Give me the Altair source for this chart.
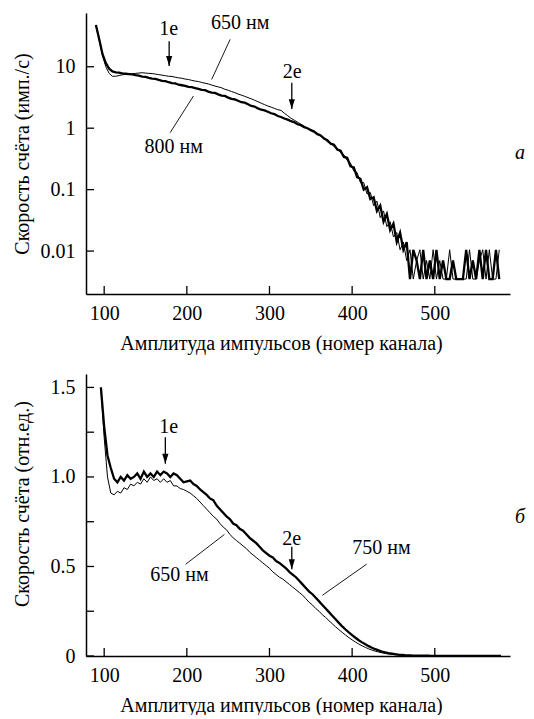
import altair as alt
import pandas as pd

# ---------------- data ----------------
top_channels = list(range(90, 579, 4))
top_800 = [48, 28, 16, 11.5, 9.3, 8.4, 8.1, 8.0, 7.8, 7.7,
           7.6, 7.5, 7.3, 7.15, 6.9, 6.85, 6.6, 6.4, 6.35, 6.1,
           5.9, 5.85, 5.6, 5.4, 5.35, 5.1, 5.0, 4.9, 4.7, 4.65,
           4.5, 4.35, 4.2, 4.15, 3.95, 3.8, 3.75, 3.55, 3.4, 3.35,
           3.15, 3.0, 2.95, 2.8, 2.65, 2.6, 2.45, 2.3, 2.25, 2.1,
           2.0, 1.95, 1.85, 1.75, 1.7, 1.58, 1.52, 1.44, 1.38, 1.3,
           1.25, 1.16, 1.12, 1.04, 1.0, 0.93, 0.88, 0.8, 0.76, 0.68,
           0.64, 0.56, 0.54, 0.45, 0.43, 0.34, 0.33, 0.24, 0.23, 0.16,
           0.15, 0.1, 0.11, 0.07, 0.075, 0.045, 0.055, 0.03, 0.04, 0.022,
           0.028, 0.014, 0.02, 0.0105, 0.014, 0.0035, 0.0105, 0.007, 0.0035, 0.0105,
           0.0035, 0.007, 0.0035, 0.0105, 0.0035, 0.007, 0.0035, 0.0035, 0.007, 0.0035,
           0.0035, 0.0035, 0.0105, 0.0035, 0.007, 0.0035, 0.0105, 0.0035, 0.0105, 0.0035,
           0.0035, 0.0105, 0.0035]
top_650 = [48, 27, 15, 10, 7.8, 7.0, 7.0, 7.2, 7.4, 7.5,
           7.6, 7.7, 7.8, 7.9, 8.0, 7.9, 7.8, 7.75, 7.6, 7.45,
           7.3, 7.15, 7.0, 6.95, 6.75, 6.6, 6.5, 6.3, 6.2, 6.0,
           5.85, 5.75, 5.55, 5.4, 5.25, 5.05, 4.85, 4.7, 4.55, 4.3,
           4.15, 3.95, 3.8, 3.6, 3.45, 3.3, 3.15, 3.0, 2.85, 2.7,
           2.55, 2.42, 2.3, 2.2, 2.1, 2.0, 1.95, 1.75, 1.6, 1.45,
           1.35, 1.25, 1.16, 1.08, 1.0, 0.95, 0.86, 0.82, 0.74, 0.7,
           0.6, 0.58, 0.5, 0.47, 0.4, 0.37, 0.3, 0.27, 0.2, 0.19,
           0.13, 0.13, 0.085, 0.09, 0.055, 0.065, 0.035, 0.045, 0.025, 0.03,
           0.017, 0.02, 0.0105, 0.014, 0.007, 0.0105, 0.0035, 0.007, 0.0105, 0.0035,
           0.007, 0.0035, 0.0105, 0.0035, 0.007, 0.0035, 0.0035, 0.0105, 0.0035, 0.0035,
           0.0035, 0.0035, 0.0035, 0.0105, 0.0035, 0.0035, 0.007, 0.0105, 0.0035, 0.0105,
           0.0035, 0.0035, 0.0105]

bot_channels = list(range(96, 581, 4))
bot_750 = [1.5, 1.28, 1.12, 1.05, 0.99, 0.97, 1.0, 0.98, 1.01, 0.99,
           1.0, 1.02, 0.99, 1.03, 1.0, 1.02, 1.0, 1.03, 1.01, 1.03,
           1.02, 1.0, 1.02, 1.01, 0.99, 0.97, 0.975, 0.98, 0.96, 0.95,
           0.93, 0.915, 0.9, 0.88, 0.87, 0.84, 0.82, 0.8, 0.78, 0.765,
           0.74, 0.73, 0.71, 0.7, 0.68, 0.66, 0.645, 0.63, 0.61, 0.59,
           0.575, 0.56, 0.55, 0.53, 0.52, 0.505, 0.49, 0.47, 0.455, 0.44,
           0.42, 0.4, 0.38, 0.36, 0.345, 0.325, 0.305, 0.285, 0.265, 0.245,
           0.225, 0.205, 0.185, 0.165, 0.148, 0.132, 0.117, 0.102, 0.088, 0.076,
           0.065, 0.055, 0.046, 0.038, 0.031, 0.025, 0.02, 0.016, 0.013, 0.01,
           0.008, 0.0065, 0.005, 0.004, 0.003, 0.0025, 0.002, 0.002, 0.0015, 0.0015,
           0.0012, 0.0012, 0.001, 0.001, 0.001, 0.0008, 0.0008, 0.0008, 0.0008, 0.0008,
           0.0006, 0.0006, 0.0006, 0.0006, 0.0006, 0.0006, 0.0006, 0.0006, 0.0006, 0.0006,
           0.0006, 0.0006]
bot_650 = [1.5, 1.22, 1.0, 0.91, 0.9, 0.92, 0.91, 0.94, 0.93, 0.96,
           0.95, 0.97, 0.96, 0.99, 0.97, 1.0, 0.98, 0.99, 0.97, 0.99,
           0.97, 0.98, 0.95, 0.95, 0.935, 0.93, 0.92, 0.91, 0.895, 0.88,
           0.86, 0.84, 0.82, 0.8, 0.78, 0.765, 0.74, 0.72, 0.705, 0.68,
           0.66, 0.645, 0.63, 0.615, 0.6, 0.58, 0.565, 0.55, 0.535, 0.52,
           0.505, 0.49, 0.47, 0.455, 0.44, 0.43, 0.415, 0.4, 0.385, 0.37,
           0.355, 0.34, 0.32, 0.3, 0.285, 0.265, 0.25, 0.23, 0.215, 0.197,
           0.18, 0.163, 0.147, 0.132, 0.117, 0.103, 0.09, 0.078, 0.067, 0.057,
           0.048, 0.04, 0.033, 0.027, 0.022, 0.018, 0.014, 0.011, 0.009, 0.007,
           0.0055, 0.0045, 0.0035, 0.003, 0.0025, 0.002, 0.0015, 0.0015, 0.0012, 0.0012,
           0.001, 0.001, 0.0008, 0.0008, 0.0008, 0.0006, 0.0006, 0.0006, 0.0006, 0.0006,
           0.0005, 0.0005, 0.0005, 0.0005, 0.0005, 0.0005, 0.0005, 0.0005, 0.0005, 0.0005,
           0.0005, 0.0005]

x_ticks = [100, 200, 300, 400, 500]
top_y_ticks = [0.01, 0.1, 1, 10]
bot_y_ticks = [0, 0.25, 0.5, 0.75, 1.0, 1.25, 1.5]

# annotations: text labels
top_text = ["1e", "2e", "650 нм", "800 нм"]
top_text_x = [178, 327.5, 264.5, 184]
top_text_y = [41, 8.2, 52, 0.5]
bot_text = ["1e", "2e", "650 нм", "750 нм"]
bot_text_x = [178, 327, 191, 435.5]
bot_text_y = [1.278, 0.655, 0.45, 0.603]

# arrows (x, from y, to y)
top_arrow_x = [178.6, 327]
top_arrow_y1 = [26, 5.5]
top_arrow_y2 = [10.3, 2.05]
bot_arrow_x = [174, 327]
bot_arrow_y1 = [1.222, 0.61]
bot_arrow_y2 = [1.074, 0.485]

# leader lines
top_lead_x1 = [252.4, 179.8]
top_lead_y1 = [27.9, 0.845]
top_lead_x2 = [230, 208]
top_lead_y2 = [6.2, 3.34]
bot_lead_x1 = [198.5, 417.6]
bot_lead_y1 = [0.512, 0.513]
bot_lead_x2 = [245.5, 364]
bot_lead_y2 = [0.679, 0.339]

# panel letters
top_letter = "a"
top_letter_y = 0.40
bot_letter = "б"
bot_letter_y = 0.778

# ---------------- styling ----------------
FONT = "serif"
FS = 20
W = 424
H1 = 281
H2 = 282
XTITLE = "Амплитуда импульсов (номер канала)"

xscale = alt.Scale(domain=[78, 591], nice=False, zero=False)
ytop = alt.Scale(type="log", domain=[0.002, 75], nice=False)
ybot = alt.Scale(domain=[0, 1.575], nice=False, zero=False)


def x_axis():
    return alt.Axis(values=x_ticks, ticks=False, tickSize=0, grid=False,
                    domainColor="black", domainWidth=1.5,
                    labelFont=FONT, labelFontSize=FS, labelColor="black",
                    labelPadding=9, labelFlush=False,
                    title=XTITLE, titleFont=FONT, titleFontSize=FS,
                    titleFontWeight="normal", titleColor="black",
                    titleX=195, titleY=49, titleBaseline="middle", titleAlign="center")


def y_axis(values, title, title_y, fmt=None, expr=None):
    kw = dict(values=values, ticks=False, tickSize=0, grid=False,
              domainColor="black", domainWidth=1.5,
              labelFont=FONT, labelFontSize=FS, labelColor="black",
              labelPadding=11, labelFlush=False,
              title=title, titleFont=FONT, titleFontSize=FS,
              titleFontWeight="normal", titleColor="black",
              titleX=-64, titleY=title_y, titleBaseline="middle", titleAlign="center",
              titleAngle=270)
    if fmt:
        kw["format"] = fmt
    if expr:
        kw["labelExpr"] = expr
    return alt.Axis(**kw)


ARROW = "M0,0L-1,-3.2L1,-3.2Z"


def panel(ch, s_thick, s_thin, yscale, yaxis, H, tick_vals,
          tx, ty, tt, ax, ay1, ay2, lx1, ly1, lx2, ly2, letter, letter_y):
    xa = x_axis()
    d_thick = pd.DataFrame({"ch": ch, "v": s_thick})
    d_thin = pd.DataFrame({"ch": ch, "v": s_thin})
    X = lambda: alt.X("ch:Q", scale=xscale, axis=xa)
    Y = lambda: alt.Y("v:Q", scale=yscale, axis=yaxis)
    thick = alt.Chart(d_thick).mark_line(color="black", strokeWidth=2.3, clip=True).encode(
        x=X(), y=Y())
    thin = alt.Chart(d_thin).mark_line(color="black", strokeWidth=1.0, clip=True).encode(
        x=X(), y=Y())
    xt = alt.Chart(pd.DataFrame({"ch": x_ticks})).mark_rule(color="black", strokeWidth=1.3).encode(
        x=X(), y=alt.value(H), y2=alt.value(H - 8))
    yt = alt.Chart(pd.DataFrame({"v": tick_vals})).mark_rule(color="black", strokeWidth=1.3).encode(
        y=Y(), x=alt.value(0), x2=alt.value(8))
    txt = alt.Chart(pd.DataFrame({"ch": tx, "v": ty, "t": tt})).mark_text(
        font=FONT, fontSize=FS, color="black", align="center", baseline="middle").encode(
        x=X(), y=Y(), text="t:N")
    shafts = alt.Chart(pd.DataFrame({"ch": ax, "v": ay1, "v2": ay2})).mark_rule(
        color="black", strokeWidth=1.3).encode(
        x=X(), y=Y(), y2="v2:Q")
    heads = alt.Chart(pd.DataFrame({"ch": ax, "v": ay2})).mark_point(
        shape=ARROW, filled=True, size=38, color="black", opacity=1).encode(
        x=X(), y=Y())
    leads = alt.Chart(pd.DataFrame({"ch": lx1, "v": ly1, "ch2": lx2, "v2": ly2})).mark_rule(
        color="black", strokeWidth=0.9).encode(
        x=X(), x2="ch2:Q", y=Y(), y2="v2:Q")
    let = alt.Chart(pd.DataFrame({"v": [letter_y], "t": [letter]})).mark_text(
        font=FONT, fontSize=FS, fontStyle="italic", color="black",
        align="center", baseline="middle").encode(
        x=alt.value(434), y=Y(), text="t:N")
    return alt.layer(thick, thin, xt, yt, shafts, heads, leads, txt, let).properties(width=W, height=H)


top = panel(top_channels, top_800, top_650, ytop,
            y_axis(top_y_ticks, "Скорость счёта (имп./с)", 140.5, fmt="~g"), H1, top_y_ticks,
            top_text_x, top_text_y, top_text, top_arrow_x, top_arrow_y1, top_arrow_y2,
            top_lead_x1, top_lead_y1, top_lead_x2, top_lead_y2, top_letter, top_letter_y)

bot_expr = "datum.value == 0 ? '0' : (datum.value * 2 == round(datum.value * 2) ? format(datum.value, '.1f') : '')"
bottom = panel(bot_channels, bot_750, bot_650, ybot,
               y_axis(bot_y_ticks, "Скорость счёта (отн.ед.)", 129.6, expr=bot_expr), H2, bot_y_ticks,
               bot_text_x, bot_text_y, bot_text, bot_arrow_x, bot_arrow_y1, bot_arrow_y2,
               bot_lead_x1, bot_lead_y1, bot_lead_x2, bot_lead_y2, bot_letter, bot_letter_y)

chart = alt.vconcat(top, bottom, spacing=80, bounds="flush").properties(
    padding={"left": 11, "top": 12, "right": 0, "bottom": 0},
    background="white",
).configure(font=FONT).configure_view(stroke=None)

chart.save("out.html", embed_options={"renderer": "svg", "actions": False})
